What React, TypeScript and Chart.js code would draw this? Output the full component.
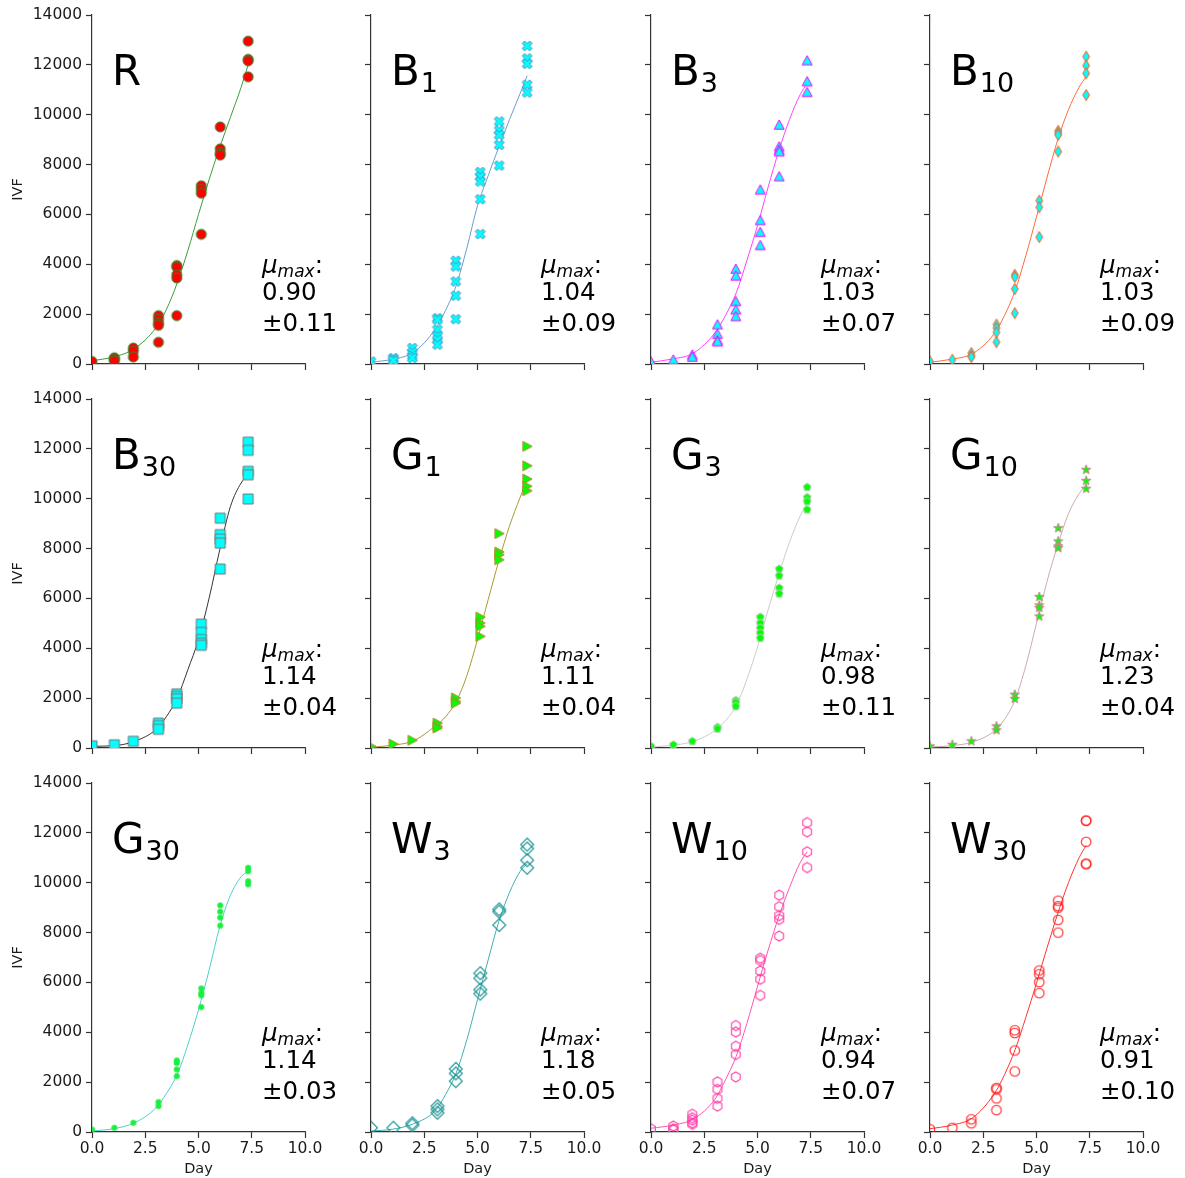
import React, { useEffect, useRef } from 'react';
import { Chart, registerables } from 'chart.js';

Chart.register(...registerables);

// Sampling days shared by every culture
const SAMPLE_DAYS = [0, 1.05, 1.94, 3.12, 3.98, 5.13, 6.02, 7.33];
// Days at which each fitted growth curve is tabulated
const FIT_DAYS = [0, 1, 2, 3, 3.5, 4, 4.5, 5, 5.5, 6, 6.5, 7, 7.33];

// Replicate IVF readings, one inner list per sampling day
const R_OBS = [[100], [250, 200, 120], [640, 510, 280], [1940, 1800, 1640, 1550, 870], [3950, 3890, 3580, 3450, 1940], [7150, 7000, 6850, 5200], [9510, 8630, 8460, 8380], [12950, 12220, 12160, 11520]];
const B1_OBS = [[100], [240, 180, 130], [640, 470, 330, 240], [1840, 1780, 1380, 1110, 975, 775], [4140, 3910, 3310, 2740, 1800], [7700, 7520, 7320, 6610, 5210], [9730, 9370, 9190, 8790, 7960], [12760, 12260, 12040, 11200, 10890]];
const B3_OBS = [[100], [170], [370, 280], [1580, 1200, 950, 900], [3810, 3540, 2510, 2180, 1910], [6990, 5760, 5290, 4760], [9590, 8720, 8590, 8520, 7520], [12170, 11330, 10900]];
const B10_OBS = [[100], [170], [440, 330, 280], [1580, 1440, 1270, 880], [3580, 3490, 3010, 2040], [6550, 6290, 5090], [9350, 9260, 9190, 8520], [12330, 11970, 11660, 10790]];
const B30_OBS = [[90], [130], [270], [1000, 900, 750], [2170, 2070, 1970, 1800], [4970, 4640, 4350, 4210, 4120], [9220, 8560, 8380, 8220, 7180], [12270, 11940, 11100, 10960, 9990]];
const G1_OBS = [[70], [160], [310], [1000, 870, 800], [2010, 1870, 1800], [5250, 5010, 4880, 4480], [8600, 7860, 7750, 7550], [12100, 11320, 10790, 10500, 10320]];
const G3_OBS = [[70], [130], [270], [830, 770], [1910, 1830, 1670], [5250, 5010, 4810, 4610, 4410], [7180, 6910, 6420, 6190], [10460, 10050, 9890, 9560]];
const G10_OBS = [[70], [130], [270], [870, 710], [2140, 1970], [6060, 5720, 5620, 5280], [8820, 8290, 8090, 8020], [11160, 10720, 10400]];
const G30_OBS = [[100], [170], [370], [1200, 1040], [2870, 2770, 2510, 2240], [5760, 5570, 5480, 5010], [9090, 8840, 8600, 8280], [10600, 10460, 10060, 9930]];
const W3_OBS = [[170], [170], [350, 270], [1040, 910, 770], [2530, 2350, 2040], [6370, 6170, 5710, 5550], [8930, 8840, 8300], [11530, 11370, 10900, 10600]];
const W10_OBS = [[130], [240, 130, 80], [710, 570, 480, 370, 310], [2010, 1710, 1350, 1040], [4270, 4010, 3440, 3110, 2210], [6970, 6880, 6460, 6130, 5480], [9500, 9040, 8680, 8530, 7860], [12410, 12040, 11240, 10610]];
const W30_OBS = [[110], [170], [510, 350], [1770, 1710, 1350, 880], [4080, 3970, 3270, 2430], [6480, 6330, 6010, 5570], [9280, 9060, 9000, 8510, 8000], [12500, 12480, 11640, 10770, 10740]];

// Fitted growth curves at FIT_DAYS
const R_FIT = [130, 280, 620, 1450, 2200, 3250, 4550, 6000, 7400, 8700, 9900, 11100, 12000];
const B1_FIT = [70, 190, 470, 1380, 2150, 3150, 4650, 6350, 7550, 8700, 9800, 10850, 11560];
const B3_FIT = [70, 200, 440, 1250, 1950, 2850, 4150, 5550, 7100, 8550, 9800, 10800, 11250];
const B10_FIT = [70, 190, 420, 1200, 1950, 2950, 4350, 5900, 7500, 9000, 10200, 11100, 11530];
const B30_FIT = [70, 90, 270, 740, 1270, 2000, 3140, 4350, 6020, 7960, 9690, 10630, 10960];
const G1_FIT = [30, 110, 290, 870, 1250, 1870, 2900, 4350, 5950, 7500, 8900, 10050, 10760];
const G3_FIT = [40, 110, 270, 700, 1100, 1700, 2750, 4050, 5550, 6950, 8250, 9300, 9800];
const G10_FIT = [40, 90, 240, 670, 1150, 1940, 3300, 5000, 6700, 8150, 9400, 10200, 10560];
const G30_FIT = [40, 130, 370, 970, 1550, 2310, 3500, 4900, 6500, 8240, 9500, 10240, 10460];
const W3_FIT = [40, 110, 330, 840, 1500, 2370, 3700, 5310, 6900, 8440, 9600, 10450, 10770];
const W10_FIT = [150, 270, 530, 1310, 2100, 3040, 4350, 5840, 7300, 8640, 9800, 10800, 11240];
const W30_FIT = [130, 270, 570, 1510, 2300, 3310, 4600, 5970, 7400, 8770, 10000, 11000, 11500];

const PANEL_LABELS = ['R', 'B', 'B', 'B', 'B', 'G', 'G', 'G', 'G', 'W', 'W', 'W'];
const PANEL_SUBSCRIPTS = ['', '1', '3', '10', '30', '1', '3', '10', '30', '3', '10', '30'];
const MU_MAX = ['0.90', '1.04', '1.03', '1.03', '1.14', '1.11', '0.98', '1.23', '1.14', '1.18', '0.94', '0.91'];
const MU_ERR = ['0.11', '0.09', '0.07', '0.09', '0.04', '0.04', '0.11', '0.04', '0.03', '0.05', '0.07', '0.10'];

const OBSERVATIONS = [R_OBS, B1_OBS, B3_OBS, B10_OBS, B30_OBS, G1_OBS, G3_OBS, G10_OBS, G30_OBS, W3_OBS, W10_OBS, W30_OBS];
const FITS = [R_FIT, B1_FIT, B3_FIT, B10_FIT, B30_FIT, G1_FIT, G3_FIT, G10_FIT, G30_FIT, W3_FIT, W10_FIT, W30_FIT];

type MarkerKind = 'circle' | 'x' | 'triUp' | 'thinDiamond' | 'square' | 'triRight' | 'pentagon' | 'star' | 'dot' | 'diamond' | 'hexagon' | 'ring';

interface PanelStyle {
  marker: MarkerKind;
  r: number;
  fill: string | null;
  edge: string;
  edgeWidth: number;
  line: string;
}

const PANEL_STYLES: PanelStyle[] = [
  { marker: 'circle', r: 5, fill: '#ff0000', edge: '#2a8a2a', edgeWidth: 1, line: '#3c9c3c' },
  { marker: 'x', r: 4.3, fill: '#00ffff', edge: '#4a8cc0', edgeWidth: 1, line: '#6b9ccf' },
  { marker: 'triUp', r: 5, fill: '#00ffff', edge: '#ff00ff', edgeWidth: 1, line: '#ff40ff' },
  { marker: 'thinDiamond', r: 5.6, fill: '#00ffff', edge: '#ff5a1f', edgeWidth: 1, line: '#ff6a3a' },
  { marker: 'square', r: 5, fill: '#00ffff', edge: '#777777', edgeWidth: 1, line: '#333333' },
  { marker: 'triRight', r: 5, fill: '#00ff00', edge: '#b08a2a', edgeWidth: 1, line: '#a89a30' },
  { marker: 'pentagon', r: 4.2, fill: '#00ff00', edge: '#c8c8c8', edgeWidth: 1, line: '#cccccc' },
  { marker: 'star', r: 5, fill: '#00ff00', edge: '#c08a8a', edgeWidth: 1, line: '#d0a8a8' },
  { marker: 'dot', r: 2.8, fill: '#1aee40', edge: '#1aee40', edgeWidth: 0.5, line: '#4fd0c8' },
  { marker: 'diamond', r: 6.5, fill: null, edge: '#1f9494', edgeWidth: 1.1, line: '#40b0b0' },
  { marker: 'hexagon', r: 5, fill: null, edge: '#ff3fa8', edgeWidth: 1.1, line: '#ff55b0' },
  { marker: 'ring', r: 4.8, fill: null, edge: '#ff2222', edgeWidth: 1.1, line: '#ff3333' },
];

const FONT = "'DejaVu Sans'";
const TEXT = '#1a1a1a';
const AXIS = '#333333';

const PLOT_W = 213;
const PLOT_H = 349;
const AXIS_W = 90;
const AXIS_H = 55;
const PAD_TOP = 15;
const PAD_RIGHT = 55;
const COL_LEFT = [92, 371, 651, 930];
const ROW_TOP = [15, 399, 783];
const CANVAS_W = AXIS_W + PLOT_W + PAD_RIGHT;
const CANVAS_H = PAD_TOP + PLOT_H + AXIS_H;

function markerPath(ctx: CanvasRenderingContext2D, kind: MarkerKind, r: number) {
  const poly = (pts: number[][]) => {
    pts.forEach(([x, y], i) => (i ? ctx.lineTo(x, y) : ctx.moveTo(x, y)));
    ctx.closePath();
  };
  const regular = (n: number, rad: number, start: number) => {
    const pts: number[][] = [];
    for (let k = 0; k < n; k++) {
      const a = start + (k * 2 * Math.PI) / n;
      pts.push([rad * Math.cos(a), rad * Math.sin(a)]);
    }
    return pts;
  };
  ctx.beginPath();
  switch (kind) {
    case 'circle':
    case 'dot':
    case 'ring':
      ctx.arc(0, 0, r, 0, Math.PI * 2);
      break;
    case 'x': {
      const L = r * 1.22;
      const w = r * 0.4;
      const plus = [[-w, -L], [w, -L], [w, -w], [L, -w], [L, w], [w, w], [w, L], [-w, L], [-w, w], [-L, w], [-L, -w], [-w, -w]];
      const c = Math.SQRT1_2;
      poly(plus.map(([x, y]) => [c * (x - y), c * (x + y)]));
      break;
    }
    case 'triUp':
      poly([[0, -r], [-r, r * 0.85], [r, r * 0.85]]);
      break;
    case 'triRight':
      poly([[r, 0], [-r * 0.85, -r], [-r * 0.85, r]]);
      break;
    case 'thinDiamond':
      poly([[0, -r], [r * 0.6, 0], [0, r], [-r * 0.6, 0]]);
      break;
    case 'diamond':
      poly([[0, -r], [r, 0], [0, r], [-r, 0]]);
      break;
    case 'square':
      poly([[-r, -r], [r, -r], [r, r], [-r, r]]);
      break;
    case 'pentagon':
      poly(regular(5, r, -Math.PI / 2));
      break;
    case 'hexagon':
      poly(regular(6, r, -Math.PI / 2));
      break;
    case 'star': {
      const pts: number[][] = [];
      for (let k = 0; k < 10; k++) {
        const rad = k % 2 === 0 ? r : r * 0.4;
        const a = -Math.PI / 2 + (k * Math.PI) / 5;
        pts.push([rad * Math.cos(a), rad * Math.sin(a)]);
      }
      poly(pts);
      break;
    }
  }
}

function makeMarker(style: PanelStyle): HTMLCanvasElement {
  const s = 2 * Math.ceil(style.r * 1.3 + style.edgeWidth + 1);
  const c = document.createElement('canvas');
  c.width = s;
  c.height = s;
  const ctx = c.getContext('2d')!;
  ctx.translate(s / 2, s / 2);
  markerPath(ctx, style.marker, style.r);
  if (style.fill) {
    ctx.fillStyle = style.fill;
    ctx.fill();
  }
  ctx.lineWidth = style.edgeWidth;
  ctx.strokeStyle = style.edge;
  ctx.lineJoin = 'miter';
  ctx.stroke();
  return c;
}

function textPlugin(i: number, showX: boolean, showY: boolean) {
  return {
    id: 'panelText',
    afterDraw(chart: Chart) {
      const { ctx, chartArea: a } = chart;
      ctx.save();
      ctx.fillStyle = '#000';
      ctx.textAlign = 'left';
      ctx.textBaseline = 'alphabetic';

      // Culture label with subscript
      const lx = a.left + 20;
      const ly = a.top + 70;
      ctx.font = `42px ${FONT}`;
      ctx.fillText(PANEL_LABELS[i], lx, ly);
      const lw = ctx.measureText(PANEL_LABELS[i]).width;
      if (PANEL_SUBSCRIPTS[i]) {
        ctx.font = `27px ${FONT}`;
        ctx.fillText(PANEL_SUBSCRIPTS[i], lx + lw + 1, ly + 7);
      }

      // Maximum growth rate annotation
      const mx = a.left + 170;
      ctx.font = `italic 24.5px ${FONT}`;
      ctx.fillText('μ', mx, a.top + 258);
      let cx = mx + ctx.measureText('μ').width;
      ctx.font = `italic 17px ${FONT}`;
      ctx.fillText('max', cx, a.top + 262);
      cx += ctx.measureText('max').width;
      ctx.font = `24.5px ${FONT}`;
      ctx.fillText(':', cx, a.top + 258);
      ctx.fillText(MU_MAX[i], mx, a.top + 285);
      ctx.fillText('±' + MU_ERR[i], mx, a.top + 315.5);

      ctx.fillStyle = TEXT;
      ctx.font = `14.5px ${FONT}`;
      if (showY) {
        ctx.save();
        ctx.translate(a.left - 70.5, (a.top + a.bottom) / 2);
        ctx.rotate(-Math.PI / 2);
        ctx.textAlign = 'center';
        ctx.fillText('IVF', 0, 0);
        ctx.restore();
      }
      if (showX) {
        ctx.textAlign = 'center';
        ctx.fillText('Day', (a.left + a.right) / 2, a.bottom + 40.5);
      }
      ctx.restore();
    },
  };
}

function Panel({ index }: { index: number }) {
  const ref = useRef<HTMLCanvasElement>(null);
  const col = index % 4;
  const row = Math.floor(index / 4);
  const showX = row === 2;
  const showY = col === 0;

  useEffect(() => {
    const canvas = ref.current;
    if (!canvas) return;
    const style = PANEL_STYLES[index];
    const points = OBSERVATIONS[index].flatMap((vals, d) => vals.map((v) => ({ x: SAMPLE_DAYS[d], y: v })));
    const fit = FITS[index].map((v, k) => ({ x: FIT_DAYS[k], y: v }));
    const marker = makeMarker(style);

    const tickFont = { family: FONT, size: 15.5 };
    const chart = new Chart(canvas, {
      type: 'scatter',
      data: {
        datasets: [
          {
            type: 'scatter',
            data: points,
            pointStyle: marker as any,
            pointRadius: style.r,
            pointHoverRadius: style.r,
            clip: 0,
            order: 0,
          },
          {
            type: 'line',
            data: fit,
            borderColor: style.line,
            borderWidth: 1,
            pointRadius: 0,
            fill: false,
            cubicInterpolationMode: 'monotone',
            clip: 0,
            order: 1,
          } as any,
        ],
      },
      options: {
        animation: false,
        responsive: false,
        devicePixelRatio: 1,
        events: [],
        layout: { padding: { left: 0, top: PAD_TOP, right: PAD_RIGHT, bottom: 0 } },
        plugins: { legend: { display: false }, tooltip: { enabled: false } },
        scales: {
          x: {
            type: 'linear',
            min: 0,
            max: 10,
            afterFit: (s: any) => {
              s.height = AXIS_H;
              s.paddingLeft = 0;
              s.paddingRight = 0;
            },
            ticks: {
              stepSize: 2.5,
              display: showX,
              autoSkip: false,
              maxRotation: 0,
              padding: 2,
              color: TEXT,
              font: tickFont,
              callback: (v: any) => Number(v).toFixed(1),
            },
            grid: { drawOnChartArea: false, drawTicks: true, tickLength: 6, tickWidth: 1.2, tickColor: AXIS, color: AXIS },
            border: { display: true, color: AXIS, width: 1.2 },
          },
          y: {
            type: 'linear',
            min: 0,
            max: 14000,
            afterFit: (s: any) => {
              s.width = AXIS_W;
              s.paddingTop = 0;
              s.paddingBottom = 0;
            },
            ticks: {
              stepSize: 2000,
              display: showY,
              autoSkip: false,
              padding: 4,
              color: TEXT,
              font: tickFont,
              callback: (v: any) => String(v),
            },
            grid: { drawOnChartArea: false, drawTicks: true, tickLength: 6, tickWidth: 1.2, tickColor: AXIS, color: AXIS },
            border: { display: true, color: AXIS, width: 1.2 },
          },
        },
      } as any,
      plugins: [textPlugin(index, showX, showY) as any],
    });
    return () => chart.destroy();
  }, [index]);

  return (
    <canvas
      ref={ref}
      width={CANVAS_W}
      height={CANVAS_H}
      style={{
        position: 'absolute',
        left: COL_LEFT[col] - AXIS_W,
        top: ROW_TOP[row] - PAD_TOP,
        width: CANVAS_W,
        height: CANVAS_H,
      }}
    />
  );
}

export default function App() {
  return (
    <div
      style={{
        position: 'absolute',
        left: 0,
        top: 0,
        width: 1185,
        height: 1178,
        overflow: 'hidden',
        background: '#ffffff',
      }}
    >
      {PANEL_LABELS.map((_, i) => (
        <Panel key={i} index={i} />
      ))}
    </div>
  );
}
